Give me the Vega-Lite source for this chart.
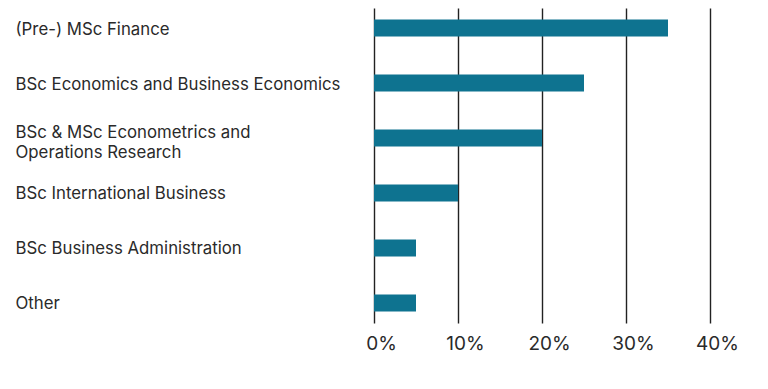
{
  "$schema": "https://vega.github.io/schema/vega-lite/v6.json",
  "width": 336,
  "height": 315,
  "padding": {"left": 374, "top": 8, "right": 58, "bottom": 66},
  "autosize": {"type": "none"},
  "background": "white",
  "config": {
    "view": {"stroke": null},
    "font": "Inter",
    "axis": {"labelFont": "Inter", "labelColor": "#2a2a2a"}
  },
  "data": {
    "values": [
      {"program": "(Pre-) MSc Finance", "share": 35},
      {"program": "BSc Economics and Business Economics", "share": 25},
      {"program": "BSc & MSc Econometrics and|Operations Research", "share": 20},
      {"program": "BSc International Business", "share": 10},
      {"program": "BSc Business Administration", "share": 5},
      {"program": "Other", "share": 5}
    ]
  },
  "layer": [
    {
      "mark": {"type": "bar", "color": "#0e7390"},
      "encoding": {
        "y": {
          "field": "program",
          "type": "nominal",
          "sort": null,
          "scale": {"paddingInner": 0.69, "paddingOuter": 0.21},
          "axis": {
            "title": null,
            "domain": false,
            "ticks": false,
            "labelAlign": "left",
            "labelPadding": 359,
            "labelLimit": 400,
            "labelFontSize": 16.8,
            "labelLineHeight": 20,
            "labelOffset": {"condition": {"test": "indexof(datum.label, '|') >= 0", "value": -5}, "value": 1.5},
            "labelExpr": "split(datum.label, '|')"
          }
        },
        "x": {
          "field": "share",
          "type": "quantitative",
          "scale": {"domain": [0, 40]},
          "axis": {
            "title": null,
            "values": [0, 10, 20, 30, 40],
            "labelExpr": "datum.value + '%'",
            "labelFlush": false,
            "domain": false,
            "ticks": false,
            "grid": true,
            "gridColor": "#222222",
            "gridWidth": 1.4,
            "gridOpacity": 1,
            "labelFontSize": 19,
            "labelPadding": 11,
            "labelOffset": 7
          }
        }
      }
    }
  ]
}
